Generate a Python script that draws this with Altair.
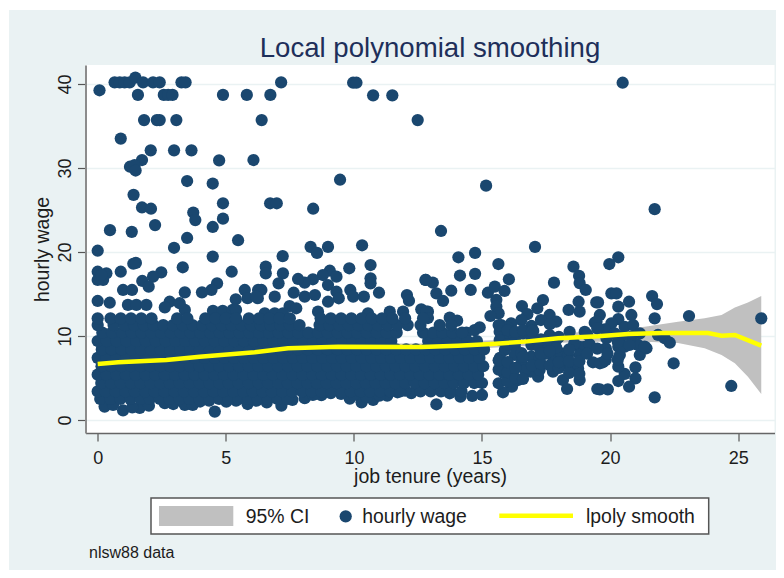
import altair as alt
import pandas as pd

# scattered points
sparse_tenure = [
 0.07,0.66,0.86,1.05,1.25,1.47,1.77,2.16,2.42,3.27,3.43,7.16,1.57,2.58,2.75,2.92,4.89,5.82,6.74,
 1.81,2.31,2.42,3.07,6.4,0.9,2.07,2.98,3.66,1.73,4.74,6.08,1.26,1.44,1.48,3.49,4.49,9.46,
 1.4,1.73,2.08,4.89,6.73,6.99,8.41,3.73,3.81,4.89,4.49,2.24,0.48,1.33,3.49,5.48,2.98,0.0,4.49,7.22,
 8.31,8.99,8.56,9.97,10.1,10.75,11.5,12.49,20.49,15.16,21.74,13.4,17.07,14.08,14.73,15.64,14.14,14.73,
 16.05,12.81,13.08,17.81,18.57,18.79,18.81,19.97,20.32]
sparse_wage = [
 39.25,40.2,40.2,40.2,40.2,40.75,40.2,40.2,40.2,40.2,40.2,40.2,38.7,38.7,38.7,38.7,38.7,38.7,38.7,
 35.7,35.7,35.7,35.7,35.7,33.5,32.1,32.1,32.1,30.95,30.9,30.95,30.15,30.35,29.7,28.45,28.15,28.6,
 26.8,25.3,25.15,25.8,25.8,25.8,25.15,24.7,23.8,23.97,22.98,23.2,22.6,22.4,21.67,21.4,20.5,20.15,19.45,19.5,
 20.6,20.6,19.9,40.15,40.15,38.65,38.65,35.7,40.15,27.9,25.1,22.5,20.6,19.37,19.9,18.57,17.2,17.4,
 16.75,16.67,16.35,16.35,18.25,17.15,16.3,18.57,19.37]

mid_tenure = [
 1.39,1.49,3.32,5.23,0.0,0.34,0.21,0.0,0.14,0.9,2.48,2.16,1.74,1.99,4.66,4.44,4.07,3.4,0.99,1.34,5.74,5.39,6.26,
 2.81,0.0,0.47,1.18,1.51,1.9,2.62,3.4,3.2,4.5,4.88,5.27,5.4,5.85,6.25,
 10.32,6.56,6.56,10.65,9.82,7.23,7.06,9.06,9.32,8.79,8.4,8.08,7.82,10.65,10.65,12.79,6.39,6.19,6.91,7.65,8.08,8.48,
 8.99,9.32,9.41,9.86,9.97,10.39,10.98,12.07,12.15,7.49,7.75,8.99,8.6,10.55,11.4,11.92,12.63,12.89,6.52,6.91,7.23]
mid_wage = [
 18.6,18.7,18.18,17.65,17.65,17.46,16.67,16.67,17.26,17.65,17.58,17.06,16.55,15.87,16.27,15.48,15.2,15.2,15.48,15.48,15.48,14.37,15.48,
 14.08,14.17,13.96,13.7,13.7,13.7,13.4,13.1,13.9,13.0,13.0,13.1,13.1,14.5,14.5,
 20.8,18.25,17.46,18.45,18.06,17.46,16.27,17.77,17.06,17.26,16.75,16.35,16.79,16.87,16.27,16.67,15.48,14.68,14.68,15.15,14.68,14.88,
 16.07,15.27,14.49,15.48,14.68,14.68,15.15,14.88,14.2,13.57,13.3,14.08,12.9,12.7,12.9,12.9,13.17,12.9,12.7,12.7,12.7]

right_tenure = [
 19.05,13.22,13.48,13.8,14.56,15.23,15.5,15.88,15.56,15.56,15.65,16.56,16.77,17.38,17.16,18.38,18.77,18.81,19.46,19.4,
 15.33,13.74,14.03,12.83,12.89,17.64,17.9,16.93,16.14,16.54,14.91,14.39,14.71,15.69,18.42,19.01,
 13.22,13.74,14.16,14.62,15.0,15.82,15.65,16.17,16.41,15.86,17.19,16.9,17.25,17.77,18.16,18.32,18.81,18.42,18.75,19.33,19.72,19.5,
 18.81,19.0,18.81,17.77,18.1,18.36,16.93,17.25,16.93,17.25,17.58,17.9,16.99,17.64,16.28,15.89,16.28,16.54,15.82,16.54,16.67,
 16.02,15.69,16.28,17.0,16.6,16.0,15.75,17.5,18.0,18.6,19.2,15.7,16.0,17.9,
 20.05,20.25,19.53,20.32,20.74,21.64,21.83,19.6,19.47,20.83,21.74,23.08,25.9,20.32,20.05,19.79,20.57,20.9,
 21.87,22.13,22.33,22.48,24.73,21.74,20.99,20.99,20.74,20.32,20.57,19.6,19.83,20.32,19.6,19.91,19.83,20.32,20.38,
 21.16,21.42,21.09,20.83,21.16,20.44,20.18,19.86,20.57,20.76,21.35]
right_wage = [
 15.48,15.08,14.17,15.39,15.48,15.15,15.87,15.36,14.3,13.5,12.7,13.57,12.6,14.28,13.3,13.1,14.08,12.9,14.0,11.58,
 12.38,12.18,11.82,12.9,12.14,12.5,11.7,11.19,11.5,11.9,11.04,10.4,10.7,10.5,10.5,10.5,
 1.87,3.18,2.77,2.86,2.98,3.3,4.37,3.96,4.76,5.56,5.15,5.75,5.95,5.75,4.76,3.69,4.76,6.35,6.15,6.87,6.87,3.69,
 8.7,8.7,7.74,7.54,7.94,7.74,8.93,8.57,7.54,7.35,8.93,9.52,9.92,10.1,8.73,8.33,7.74,7.97,6.75,6.79,5.95,
 9.92,9.52,9.92,10.6,10.3,11.0,11.3,7.9,6.7,9.1,9.0,7.4,6.2,8.6,
 15.08,15.08,14.0,13.49,14.08,14.76,13.8,12.5,11.7,12.5,12.1,12.38,12.1,12.0,11.5,10.8,11.1,11.3,
 10.12,9.73,9.2,6.75,4.05,2.7,6.27,4.96,3.96,4.64,5.48,6.75,7.14,6.35,3.65,3.65,8.54,8.73,7.74,
 7.74,8.54,8.93,9.92,10.32,9.92,10.32,9.73,8.73,8.93,8.73]

extra_tenure = [
 15.65,15.65,15.65,16.0,16.0,16.0,16.0,16.0,16.3,16.3,16.3,16.3,16.6,16.6,16.6,
 16.95,16.95,16.95,17.3,17.3,17.3,17.3,17.65,17.65,17.65,18.0,18.0,18.0,
 18.4,18.4,18.4,18.8,18.8,19.1,19.1,19.5,19.5,19.9,20.3,20.3]
extra_wage = [
 6.0,7.1,11.3,4.6,5.7,6.9,9.0,10.7,5.0,6.2,9.3,10.5,4.9,7.5,10.7,
 6.5,9.6,10.6,6.7,7.9,9.6,11.9,6.5,8.2,11.4,6.2,6.9,9.9,
 5.6,7.0,8.4,5.5,7.0,7.9,10.2,8.5,10.9,7.9,7.2,9.3]

low_tenure = [0.27,0.99,1.64,2.62,3.4,3.71,4.57,5.02,5.85,7.17,8.08,8.73,9.84,10.3,10.75,11.3,12.24,11.2,
 0.6,1.35,2.0,2.95,4.0,4.35,5.4,6.2,6.6,7.6,8.4,9.1,9.5,10.0,10.5,11.0,11.7,12.0]
low_wage = [1.6,1.15,1.43,2.0,1.8,1.8,1.0,2.18,1.9,1.7,2.6,2.95,2.55,2.1,2.4,2.9,3.2,3.96,
 1.8,1.5,1.7,1.9,2.2,2.3,2.3,2.3,2.1,2.4,3.0,3.2,3.1,3.0,2.7,2.9,3.3,3.5]

# dense band, one list of tenures per wage level
wage_levels = [2.5,3.4,4.4,5.4,6.4,7.4,8.4,9.4,10.4,11.3,12.1]
t_25 = [0.1,0.5,0.88,1.27,1.66,2.04,2.43,2.8,3.2,3.58,3.97,4.35,4.74,5.1,5.5,5.87,6.25,6.64,7.02,7.4]
t_34 = [0.0,0.31,0.7,1.08,1.45,1.85,2.22,2.6,3.0,3.37,3.76,4.15,4.52,4.9,5.29,5.68,6.05,6.44,6.8,7.2,7.59,7.97,8.35,8.74,9.12,9.5,9.88,10.27,10.63,11.03,11.42,11.8,12.6,13.0,13.4,13.79,14.2]
t_44 = [0.14,0.52,0.9,1.3,1.67,2.05,2.44,2.82,3.2,3.6,3.98,4.36,4.75,5.12,5.5,5.9,6.28,6.65,7.05,7.42,7.8,8.18,8.56,8.94,9.33,9.7,10.1,10.47,10.85,11.24,11.62,12.0,12.38,12.76,13.15,13.53,13.9,14.3,14.7,15.0]
t_54 = [0.0,0.33,0.72,1.1,1.48,1.87,2.25,2.62,3.02,3.4,3.78,4.17,4.55,4.93,5.3,5.7,6.07,6.46,6.84,7.22,7.6,8.0,8.37,8.75,9.14,9.52,9.9,10.28,10.66,11.05,11.43,11.8,12.2,12.57,12.95,13.34,13.72,14.1,14.48,14.85]
t_64 = [0.15,0.53,0.92,1.3,1.68,2.06,2.45,2.83,3.21,3.6,3.98,4.37,4.75,5.13,5.52,5.9,6.28,6.66,7.04,7.43,7.81,8.19,8.57,8.96,9.34,9.72,10.1,10.48,10.87,11.25,11.63,12.02,12.4,12.78,13.16,13.55,13.93,14.3,14.7,15.05]
t_74 = [0.0,0.34,0.72,1.11,1.49,1.87,2.26,2.64,3.02,3.4,3.79,4.17,4.56,4.94,5.32,5.7,6.09,6.47,6.85,7.24,7.62,8.0,8.38,8.77,9.15,9.53,9.92,10.3,10.68,11.06,11.45,11.83,12.21,12.6,12.98,13.36,13.74,14.13,14.5,14.9]
t_84 = [0.16,0.54,0.93,1.31,1.69,2.08,2.46,2.84,3.22,3.61,3.99,4.38,4.76,5.14,5.52,5.91,6.29,6.67,7.06,7.44,7.82,8.2,8.59,8.97,9.36,9.74,10.12,10.5,10.89,11.27,11.65,12.04,12.42,12.8,13.18,13.57,13.95,14.33,14.72,15.08]
t_94 = [0.0,0.35,0.73,1.12,1.5,1.88,2.27,2.65,3.03,3.42,3.8,4.18,4.57,4.95,5.33,5.71,6.1,6.48,6.86,7.25,7.63,8.01,8.4,8.78,9.16,9.54,9.93,10.31,10.69,11.08,11.46,12.9,13.28,13.66,14.04,14.43,14.8]
t_104 = [0.18,0.56,0.95,1.33,1.71,2.09,2.48,2.86,3.24,3.62,4.0,4.39,4.77,5.15,5.54,5.92,6.3,6.69,7.07,7.45,7.83,8.22,8.6,8.98,9.37,9.75,10.13,10.51,10.9,11.28,11.67,12.7,13.1,13.45,13.85,14.22]
t_113 = [0.0,0.62,1.05,1.42,1.8,2.18,2.56,2.94,3.32,3.7,4.08,4.46,4.84,5.22,5.6,5.98,6.36,6.74,7.12,7.5,7.88,8.66,9.04,9.42,9.8,10.18,10.56,10.94,11.32,11.7,12.1,12.6,13.35,13.8]
t_121 = [0.0,0.5,0.9,1.3,1.7,2.1,3.1,3.5,4.2,4.6,5.0,5.4,5.9,6.3,6.7,7.1,7.5,8.7,9.1,9.5,9.9,10.3,10.7,11.1,11.5,12.0,12.7]
dense_rows = [t_25,t_34,t_44,t_54,t_64,t_74,t_84,t_94,t_104,t_113,t_121]

# confidence band and smoothed line
band_tenure = [0.0,2.7,6.6,9.4,12.6,14.0,15.4,16.7,18.0,19.5,20.7,21.35,22.65,23.69,24.35,24.87,25.38,25.9]
band_upper = [7.1,7.5,8.5,9.1,9.1,9.3,9.5,9.8,10.3,10.6,10.9,11.1,11.7,12.1,12.5,13.4,14.0,14.76]
band_lower = [6.2,6.8,7.8,8.3,8.3,8.4,8.6,8.8,9.2,9.3,9.4,9.3,9.17,8.53,7.74,6.75,5.15,3.1]
line_tenure = [0.0,0.8,2.68,3.98,6.13,7.43,9.38,12.63,14.06,15.37,16.67,17.97,19.53,20.7,22.0,23.82,24.35,24.87,25.9]
line_wage = [6.67,6.87,7.14,7.54,8.06,8.53,8.73,8.69,8.85,9.05,9.33,9.72,9.96,10.24,10.36,10.36,10.04,10.12,8.85]

x_ticks = [0,5,10,15,20,25]
y_ticks = [0,10,20,30,40]

NAVY = "#1a476f"
BG = "#eaf2f3"
FONT = "Liberation Sans"
TXT = "#1c1c1c"
DOT = 150

px, py = [], []
px += sparse_tenure + mid_tenure + right_tenure + extra_tenure + low_tenure
py += sparse_wage + mid_wage + right_wage + extra_wage + low_wage
for level, row in zip(wage_levels, dense_rows):
    px += row
    py += [level] * len(row)
points = pd.DataFrame({"tenure": px, "wage": py})
band = pd.DataFrame({"tenure": band_tenure, "lo": band_lower, "hi": band_upper})
line = pd.DataFrame({"tenure": line_tenure, "wage": line_wage})
one = pd.DataFrame({"k": [0]})

xs = alt.Scale(domain=[-0.476, 26.417], nice=False, zero=False)
ys = alt.Scale(domain=[-1.548, 42.26], nice=False, zero=False)
xax = alt.Axis(values=x_ticks, title="job tenure (years)", grid=False, tickSize=8, tickColor="#555555",
               domainColor="#666666", domainWidth=1.5, tickWidth=1.2, labelFontSize=18, labelPadding=8,
               titleFontSize=19.5, titlePadding=0, labelFont=FONT, titleFont=FONT, labelColor=TXT,
               titleColor=TXT, titleFontWeight="normal", format="d")
yax = alt.Axis(values=y_ticks, title="hourly wage", grid=True, gridColor=BG, gridWidth=1.5, tickSize=8,
               tickColor="#555555", domainColor="#8c8c8c", domainWidth=2, tickWidth=1.2, labelFontSize=18,
               labelAngle=270, labelAlign="center", labelBaseline="bottom", labelPadding=3,
               titleFontSize=19.5, titlePadding=4, labelFont=FONT, titleFont=FONT, labelColor=TXT,
               titleColor=TXT, titleFontWeight="normal", format="d")

band_l = alt.Chart(band).mark_area(color="#c0c0c0", opacity=1).encode(
    x=alt.X("tenure:Q", scale=xs, axis=xax), y=alt.Y("lo:Q", scale=ys, axis=yax), y2="hi:Q")
dots = alt.Chart(points).mark_circle(size=DOT, color=NAVY, opacity=1).encode(
    x=alt.X("tenure:Q", scale=xs), y=alt.Y("wage:Q", scale=ys))
smooth = alt.Chart(line).mark_line(color="#ffff00", strokeWidth=4.5).encode(
    x=alt.X("tenure:Q", scale=xs), y=alt.Y("wage:Q", scale=ys))

OX, OY = 85.5, 65

def box(x0, x1, y0, y1, **kw):
    return alt.Chart(one).mark_rect(**kw).encode(
        x=alt.value(x0 - OX), x2=alt.value(x1 - OX), y=alt.value(y0 - OY), y2=alt.value(y1 - OY))

def label(s, x, y, size=19.4, align="left", color=TXT):
    return alt.Chart(one).mark_text(text=s, font=FONT, fontSize=size, color=color, align=align,
                                    baseline="middle").encode(x=alt.value(x - OX), y=alt.value(y - OY))

edge_top = box(7, 784, 8, 10, color="white")
edge_left = box(8, 9, 8, 570, color="white")
frame = box(151, 708.7, 498, 534, fill="white", stroke="#555555", strokeWidth=1.5)
swatch = box(159, 233.3, 506, 526, color="#c0c0c0")
leg_dot = alt.Chart(one).mark_circle(size=DOT, color=NAVY, opacity=1).encode(
    x=alt.value(345.7 - OX), y=alt.value(516.3 - OY))
leg_line = alt.Chart(one).mark_rule(color="#ffff00", strokeWidth=4.5).encode(
    x=alt.value(499.3 - OX), x2=alt.value(573 - OX), y=alt.value(515.7 - OY))

chart = alt.layer(
    band_l, dots, smooth, edge_top, edge_left, frame, swatch, leg_dot, leg_line,
    label("Local polynomial smoothing", 430, 49, size=27.6, align="center", color="#1e2f5a"),
    label("95% CI", 245.7, 517), label("hourly wage", 362.3, 517), label("lpoly smooth", 586, 517),
    label("nlsw88 data", 89, 553, size=16),
).properties(
    width=689, height=368, background=BG,
    padding={"left": 77.5, "top": 57, "right": 1.5, "bottom": 137},
    autosize=alt.AutoSizeParams(type="none"),
).configure_view(fill="white", stroke=None)

chart.save("out.html", embed_options={"renderer": "svg", "actions": False})
